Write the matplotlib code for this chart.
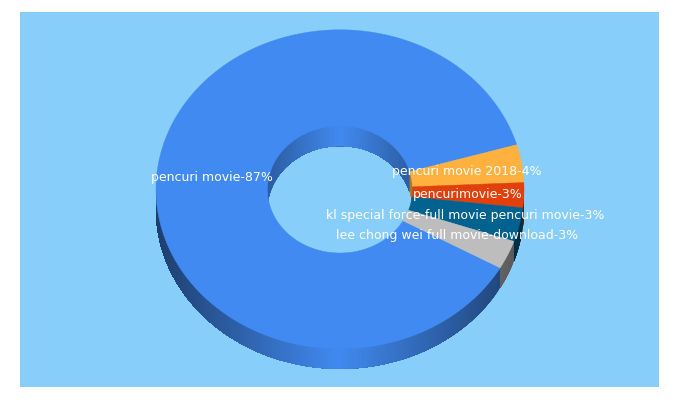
import numpy as np
import matplotlib
matplotlib.use("Agg")
import matplotlib.pyplot as plt
from matplotlib.patches import Rectangle, Polygon
from matplotlib.collections import PolyCollection
from matplotlib.colors import to_rgb

# data
labels = ["pencuri movie-87%", "pencuri movie 2018-4%", "pencurimovie-3%",
          "kl special force-full movie pencuri movie-3%",
          "lee chong wei full movie-download-3%"]
shares = [87.3, 3.83, 2.53, 3.44, 2.9]
colors = ["#418AF1", "#FFB13F", "#E2400A", "#01618F", "#BDBDBD"]

# layout (pixels)
START_ANGLE = -29.5
CX, CY, RX, RY = 340.0, 189.3, 184.0, 159.5
IRX, IRY, ICY = 72.5, 63.5, 189.5
DEPTH = 20.0
PANEL = (20, 12, 639, 375)
PANEL_COLOR = "#87CEFA"
label_xy = [(212, 177), (467, 171.5), (468, 194.5), (465, 216), (457, 236)]

fig = plt.figure(figsize=(6.8, 4), dpi=100, facecolor="white")
ax = fig.add_axes([0, 0, 1, 1])
ax.set_xlim(0, 680)
ax.set_ylim(400, 0)
ax.axis("off")
ax.add_patch(Rectangle(PANEL[:2], PANEL[2], PANEL[3], fc=PANEL_COLOR, ec="none", zorder=0))


def outer(t, dz=0.0):
    return np.c_[CX + RX * np.cos(t), CY - RY * np.sin(t) + dz]


def inner(t, dz=0.0):
    return np.c_[CX + IRX * np.cos(t), ICY - IRY * np.sin(t) + dz]


def walls(fn, t, base, k):
    """Painter's-order wall strips: each strip runs to the end of the span,
    so neighbours overlap and no seams can appear."""
    polys, cols = [], []
    for a in t[:-1]:
        rest = t[t <= a]
        polys.append(np.vstack([fn(rest), fn(rest[::-1], DEPTH)]))
        cols.append(np.clip(np.array(base) * (1 - k * abs(np.cos(a))), 0, 1))
    pc = PolyCollection(polys, facecolors=cols, edgecolors="none", linewidths=0, zorder=2)
    pc.set_snap(False)
    return pc


edges = START_ANGLE - np.cumsum([0] + shares) * 3.6
spans = [(np.radians(a), np.radians(b)) for a, b in zip(edges[:-1], edges[1:])]

# inner wall (upper part of the hole) and outer wall (lower part of the ring)
for (a, b), c in zip(spans, colors):
    t = np.linspace(a, b, max(3, int(abs(b - a) * 70)))
    s = np.sin(t)
    up = t[s >= -0.02]
    down = t[s <= 0.02]
    if len(up) > 1:
        ax.add_collection(walls(inner, up, to_rgb(c), 0.33))
    if len(down) > 1:
        ax.add_collection(walls(outer, down, to_rgb(c), 0.55))

# top faces
for (a, b), c in zip(spans, colors):
    t = np.linspace(a, b, max(3, int(abs(b - a) * 120)))
    ax.add_patch(Polygon(np.vstack([outer(t), inner(t[::-1])]), closed=True,
                         fc=c, ec=c, lw=0.3, zorder=3))

for s, (x, y) in zip(labels, label_xy):
    ax.text(x, y, s, color="white", fontsize=9.0, family="DejaVu Sans",
            ha="center", va="center", zorder=5)

fig.savefig("out.png", dpi=100, facecolor="white")
